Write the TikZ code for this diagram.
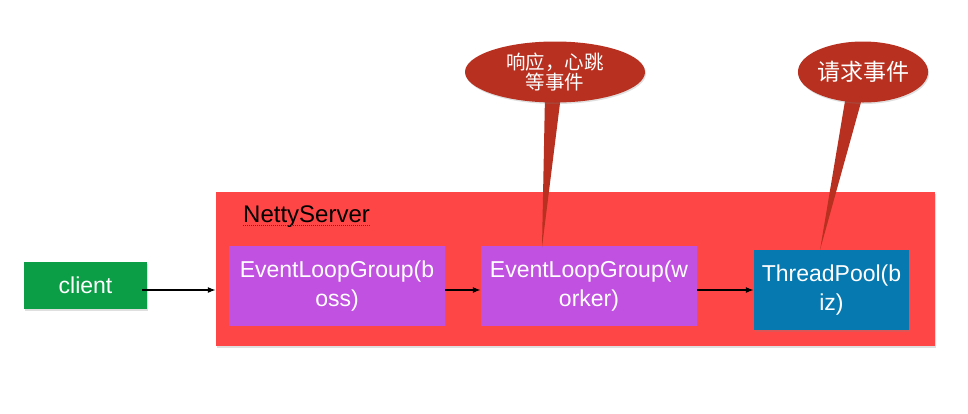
\documentclass[tikz,border=0pt]{standalone}
\usepackage{fontspec}
\setmainfont{Liberation Sans}
\newfontfamily\cjk{Noto Sans CJK SC}
\usetikzlibrary{arrows.meta,shapes.geometric,shadows}
\definecolor{srvred}{HTML}{FF4647}
\definecolor{grpurple}{HTML}{C151E0}
\definecolor{tpblue}{HTML}{0679B0}
\definecolor{clgreen}{HTML}{0B9E46}
\definecolor{callred}{HTML}{B8301F}
\begin{document}
\begin{tikzpicture}[x=1pt,y=-1pt,
  box/.style={draw=none,inner sep=0pt,align=center,text=white,
    font=\fontsize{23}{29}\selectfont},
  sh/.style={drop shadow={shadow xshift=1pt,shadow yshift=-1.5pt,opacity=0.25}},
  flow/.style={-{Latex[length=8pt,width=6pt]},line width=1.3pt,black},
  bubble/.style={ellipse,fill=callred,text=white,inner sep=0pt,align=center,sh}
]
\useasboundingbox (0,0) rectangle (968,413);
% server
\node[fill=srvred,minimum width=719pt,minimum height=154pt,inner sep=0pt,sh] (srv) at (575.5,269) {};
\node[anchor=base west,font=\fontsize{24}{28}\selectfont,inner sep=0pt] (title) at (243,222) {NettyServer};
\draw[red!80!black,densely dotted,line width=1pt] ([yshift=-3pt]title.base west) -- ([yshift=-3pt]title.base east);
% boxes
\node[box,fill=clgreen,minimum width=123pt,minimum height=47pt,sh] (client) at (85.5,285.5) {client};
\node[box,fill=grpurple,minimum width=216pt,minimum height=80pt] (boss) at (337,286) {EventLoopGroup(b\\oss)};
\node[box,fill=grpurple,minimum width=216pt,minimum height=80pt] (worker) at (589,286) {EventLoopGroup(w\\orker)};
\node[box,fill=tpblue,minimum width=155pt,minimum height=80pt,sh] (tp) at (831.5,290) {ThreadPool(b\\iz)};
% arrows
\coordinate (c0) at (142,290);
\draw[flow] (c0) -- (srv.west|-c0);
\draw[flow] (boss.east|-c0) -- (worker.west|-c0);
\draw[flow] (worker.east|-c0) -- (tp.west|-c0);
% callout tails
\coordinate (t1) at (542,247);
\coordinate (t2) at (820,250);
\fill[callred] (t1) -- (545,95) -- (561,95) -- cycle;
\fill[callred] (t2) -- (846,95) -- (863,95) -- cycle;
% callouts
\node[bubble,minimum width=180pt,minimum height=61pt,font=\cjk\fontsize{19.5}{20}\selectfont] (b1) at (555,72) {响应，心跳\\等事件};
\node[bubble,minimum width=130pt,minimum height=61pt,font=\cjk\fontsize{23}{26}\selectfont] (b2) at (863,72) {请求事件};
\end{tikzpicture}
\end{document}
